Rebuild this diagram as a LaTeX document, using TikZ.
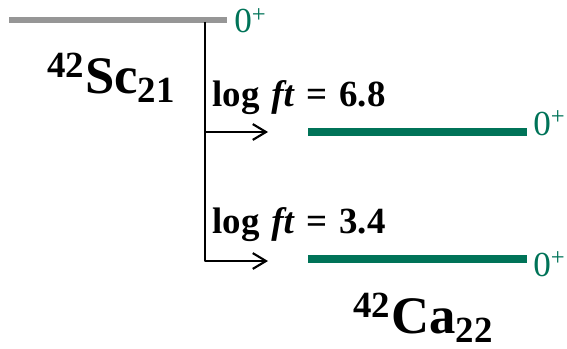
\documentclass[tikz,border=0pt]{standalone}
\usepackage{fontspec}
\setmainfont{Liberation Serif}
\usetikzlibrary{arrows.meta, positioning}
\definecolor{lvlgreen}{RGB}{0,115,88}
\definecolor{lvlgray}{RGB}{150,150,150}
\newcommand{\spinplus}{0\raisebox{0.3em}{\fontsize{14}{14}\selectfont+}}

\begin{document}
\begin{tikzpicture}[x=0.02cm, y=-0.02cm, line join=round]
   % Styles
   \tikzset{
    parentlvl/.style={line width=3.4pt, lvlgray},
    daughterlvl/.style={line width=4pt, lvlgreen},
    spin/.style={text=lvlgreen, font=\fontsize{20}{24}\selectfont, anchor=base west, inner sep=0pt},
    nucl/.style={font=\fontsize{30}{36}\selectfont\bfseries, anchor=base west, inner sep=0pt},
    ftlab/.style={font=\fontsize{21}{25}\selectfont\bfseries, anchor=base west, inner sep=0pt},
    feed/.style={line width=1.4pt, -{Straight Barb[length=7.5pt, width=9pt, line width=1.2pt]}}
   }
  \useasboundingbox (0,0) rectangle (567,348);
  % Levels
  \coordinate (pl) at (9,20);    \coordinate (pr) at (227,20);
  \coordinate (al) at (308,132); \coordinate (ar) at (527,132);
  \coordinate (gl) at (308,259); \coordinate (gr) at (527,259);
  \draw[parentlvl] (pl) -- (pr);
  \draw[daughterlvl] (al) -- (ar);
  \draw[daughterlvl] (gl) -- (gr);
  % Nodes
  \node[spin] (jp) at (234,33) {\spinplus};
  \node[spin] (ja) at (533,135) {\spinplus};
  \node[spin] (jg) at (533,276) {\spinplus};
  \node[nucl] (sc) at (47,93) {\textsuperscript{42}Sc\textsubscript{21}};
  \node[nucl] (ca) at (353,333) {\textsuperscript{42}Ca\textsubscript{22}};
  \node[ftlab] (fta) at (212,106) {\spaceskip=0.32em\relax log \textit{ft} = 6.8};
  \node[ftlab] (ftg) at (212,233) {\spaceskip=0.32em\relax log \textit{ft} = 3.4};
  % Decays
  \coordinate (dtop) at (205,22);
  \coordinate (da) at (205,132);  \coordinate (ta) at (268,132);
  \coordinate (dg) at (205,261);  \coordinate (tg) at (268,261);
  \draw[feed] (dtop) -- (dg) -- (tg);
  \draw[feed] (da) -- (ta);
\end{tikzpicture}
\end{document}
